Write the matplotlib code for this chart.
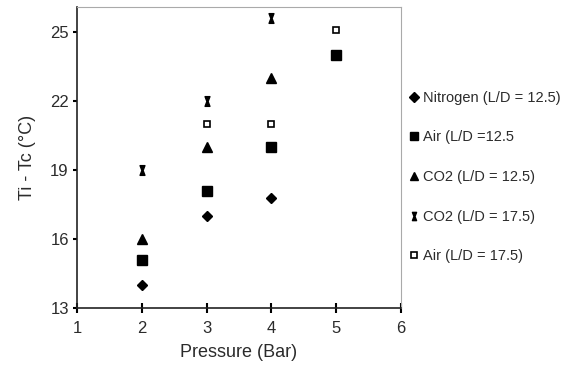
#!/usr/bin/env python3

from matplotlib import pyplot as plt
from matplotlib.path import Path

# data
nitrogen_p = [2, 3, 4]
nitrogen_dt = [14.0, 17.0, 17.8]

air125_p = [2, 3, 4, 5]
air125_dt = [15.1, 18.1, 20.0, 24.0]

co2125_p = [2, 3, 4]
co2125_dt = [16.0, 20.0, 23.0]

co2175_p = [2, 3, 4]
co2175_dt = [19.0, 22.0, 25.6]

air175_p = [3, 4, 5]
air175_dt = [21.0, 21.0, 25.1]

x_ticks = [1, 2, 3, 4, 5, 6]
y_ticks = [13, 16, 19, 22, 25]

text_col = '#2b2b2b'
plt.rcParams['font.family'] = ['Liberation Sans', 'DejaVu Sans']

# hourglass marker for the CO2 (L/D = 17.5) series
hourglass = Path([(-0.5, 1), (0.5, 1), (0.12, 0), (0.5, -1), (-0.5, -1), (-0.12, 0), (-0.5, 1)],
                 [Path.MOVETO] + [Path.LINETO] * 5 + [Path.CLOSEPOLY])

fig = plt.figure(figsize=(5.76, 3.81), dpi=100)
ax = fig.add_axes([0.134, 0.192, 0.562, 0.79])

ax.plot(nitrogen_p, nitrogen_dt, 'D', color='black', ms=5.5, ls='none', label='Nitrogen (L/D = 12.5)')
ax.plot(air125_p, air125_dt, 's', color='black', ms=6.5, ls='none', label='Air (L/D =12.5')
ax.plot(co2125_p, co2125_dt, '^', color='black', ms=7, ls='none', label='CO2 (L/D = 12.5)')
ax.plot(co2175_p, co2175_dt, marker=hourglass, color='black', ms=7, ls='none', label='CO2 (L/D = 17.5)')
ax.plot(air175_p, air175_dt, 's', mfc='white', mec='black', mew=1.2, ms=5, ls='none', label='Air (L/D = 17.5)')

ax.set_xlim(1, 6)
ax.set_ylim(13, 26.1)
ax.set_xticks(x_ticks)
ax.set_yticks(y_ticks)
ax.tick_params(axis='x', direction='inout', length=7, width=1.5, colors='black',
               labelcolor=text_col, labelsize=12, pad=6)
ax.tick_params(axis='y', direction='out', length=3, width=1.5, colors='black',
               labelcolor=text_col, labelsize=12, pad=3)

for side in ['left', 'bottom']:
    ax.spines[side].set_color('#222222')
    ax.spines[side].set_linewidth(1.2)
for side in ['top', 'right']:
    ax.spines[side].set_color('#aaaaaa')
    ax.spines[side].set_linewidth(0.8)

ax.set_xlabel('Pressure (Bar)', fontsize=13, color=text_col, labelpad=6)
ax.set_ylabel('Ti - Tc (°C)', fontsize=13, color=text_col, labelpad=10)

ax.legend(loc='upper left', bbox_to_anchor=(0.712, 0.762), bbox_transform=fig.transFigure,
          frameon=False, fontsize=10.5, handlelength=0.6, handletextpad=0.3,
          labelspacing=1.76, markerscale=0.85, labelcolor=text_col,
          borderaxespad=0, borderpad=0)

fig.savefig('out.png', dpi=100)
